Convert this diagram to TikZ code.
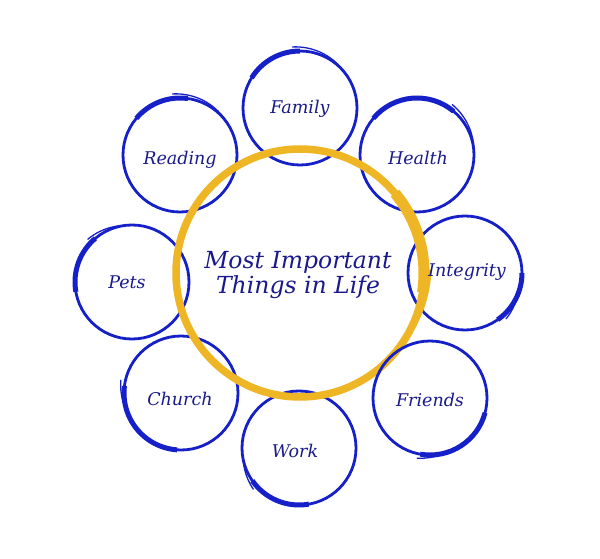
\documentclass[tikz,border=0pt]{standalone}
\usepackage{fontspec}
\setmainfont{DejaVu Serif}
\definecolor{ringblue}{RGB}{22,32,200}
\definecolor{txtblue}{RGB}{25,25,140}
\definecolor{ringyel}{RGB}{238,182,36}
\tikzset{
  ring/.style={draw=ringblue, line width=2.8pt},
  ringthick/.style={draw=ringblue, line width=5pt, line cap=butt},
  ringtail/.style={draw=ringblue, line width=1.3pt, line cap=round},
  yring/.style={draw=ringyel, line width=7.5pt},
  yringthick/.style={draw=ringyel, line width=11pt, line cap=butt},
  yringtail/.style={draw=ringyel, line width=3pt, line cap=round},
  lbl/.style={text=txtblue, font=\fontsize{17.5}{19}\selectfont\itshape, inner sep=1pt},
  mainlbl/.style={text=txtblue, font=\fontsize{23.5}{25}\selectfont\itshape, align=center, inner sep=1pt},
}
% cx cy thickStart thickEnd tailStart tailEnd
\newcommand{\bcirc}[6]{%
  \draw[ring] (#1,#2) circle[radius=57pt];
  \draw[ringthick] ({#1+57*cos(#3)},{#2+57*sin(#3)}) arc[start angle=#3, end angle=#4, radius=57pt];
  \draw[ringtail] plot[domain=#5:#6, samples=30]
    ({#1+(57+4.5*(\x-(#6))/((#5)-(#6)))*cos(\x)},{#2+(57+4.5*(\x-(#6))/((#5)-(#6)))*sin(\x)});
}
\begin{document}
\begin{tikzpicture}[x=1pt,y=1pt]
\useasboundingbox[fill=white] (0,0) rectangle (600,558);
% blue rings
\bcirc{300}{450}{90}{148}{97}{40}
\bcirc{417}{403}{50}{140}{55}{5}
\bcirc{465}{285}{-55}{0}{-48}{-22}
\bcirc{299}{110}{-145}{-80}{-138}{-168}
\bcirc{181}{165}{173}{266}{168}{200}
\bcirc{132}{276}{130}{190}{136}{98}
\bcirc{180}{403}{82}{140}{97}{35}
% yellow central ring
\draw[yring] (300,285) circle[radius=124pt];
\draw[yringthick] ({300+124*cos(40)},{285+124*sin(40)}) arc[start angle=40, end angle=-9, radius=124pt];
\draw[yringtail] plot[domain=1:-40, samples=40]
  ({300+(124+6*(\x+40)/41)*cos(\x)},{285+(124+6*(\x+40)/41)*sin(\x)});
% friends ring drawn over yellow
\bcirc{430}{160}{-100}{-15}{-102}{-75}
% labels
\node[mainlbl] (center) at (298,283) {Most Important\\Things in Life};
\node[lbl] (family) at (300,449) {Family};
\node[lbl] (health) at (418,400) {Health};
\node[lbl] (integrity) at (467,286) {Integrity};
\node[lbl] (friends) at (430,158) {Friends};
\node[lbl] (work) at (295,107) {Work};
\node[lbl] (church) at (180,159) {Church};
\node[lbl] (pets) at (127,276) {Pets};
\node[lbl] (reading) at (180,398) {Reading};
\end{tikzpicture}
\end{document}
